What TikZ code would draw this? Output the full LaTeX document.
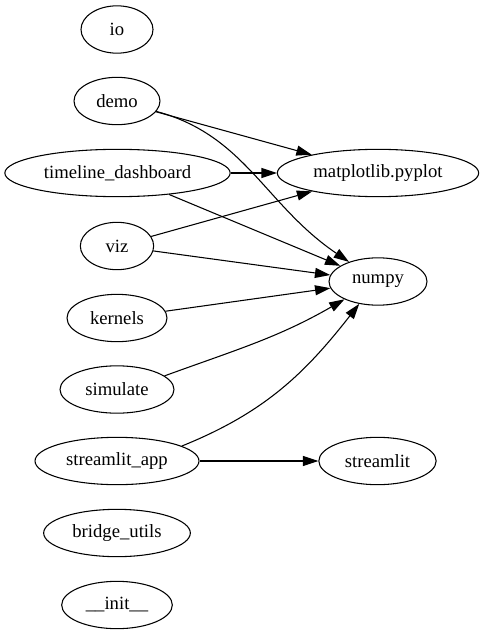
\documentclass[tikz,border=0pt]{standalone}
\usepackage{fontspec}
\setmainfont{Liberation Serif}
\newfontfamily\timesfont{Liberation Serif}
\usetikzlibrary{shapes.geometric,arrows.meta}
\begin{document}
\begin{tikzpicture}[x=0.75pt,y=-0.75pt,
  mod/.style={draw, ellipse, line width=0.8pt, inner sep=0pt, minimum height=35.5pt, font=\timesfont\fontsize{14}{16}\selectfont},
  dep/.style={draw, line width=0.8pt, -{Triangle[length=11.5pt,width=7.5pt]}}]
\useasboundingbox[fill=white] (0,0) rectangle (484,635);
\node[mod, minimum width=54pt]   (io)        at (117,29.5)  {io};
\node[mod, minimum width=64.5pt] (demo)      at (117,101)   {demo};
\node[mod, minimum width=169pt]  (td)        at (117.5,173) {timeline\_dashboard};
\node[mod, minimum width=151pt]  (mpl)       at (378,173)   {matplotlib.pyplot};
\node[mod, minimum width=55pt]   (viz)       at (117,246)   {viz};
\node[mod, minimum width=73.5pt] (np)        at (378,281.5) {numpy};
\node[mod, minimum width=75pt]   (kernels)   at (117,318)   {kernels};
\node[mod, minimum width=85.5pt] (simulate)  at (117,389.5) {simulate};
\node[mod, minimum width=123pt]  (sapp)      at (117,461)   {streamlit\_app};
\node[mod, minimum width=88pt]   (streamlit) at (377.5,461) {streamlit};
\node[mod, minimum width=110pt]  (bridge)    at (117,533)   {bridge\_utils};
\node[mod, minimum width=83pt]   (init)      at (117,605)   {\_\_init\_\_};

\draw[dep] (demo) -- (mpl);
\draw[dep] (demo) .. controls (245,135) and (265,205) .. (np);
\draw[dep] (td) -- (mpl);
\draw[dep] (td) -- (np);
\draw[dep] (viz) -- (mpl);
\draw[dep] (viz) -- (np);
\draw[dep] (kernels) -- (np);
\draw[dep] (simulate.16) to[out=20,in=-150] (np.-152);
\draw[dep] (sapp.13) to[out=22,in=-128] (np.-130);
\draw[dep] (sapp) -- (streamlit);
\end{tikzpicture}
\end{document}
